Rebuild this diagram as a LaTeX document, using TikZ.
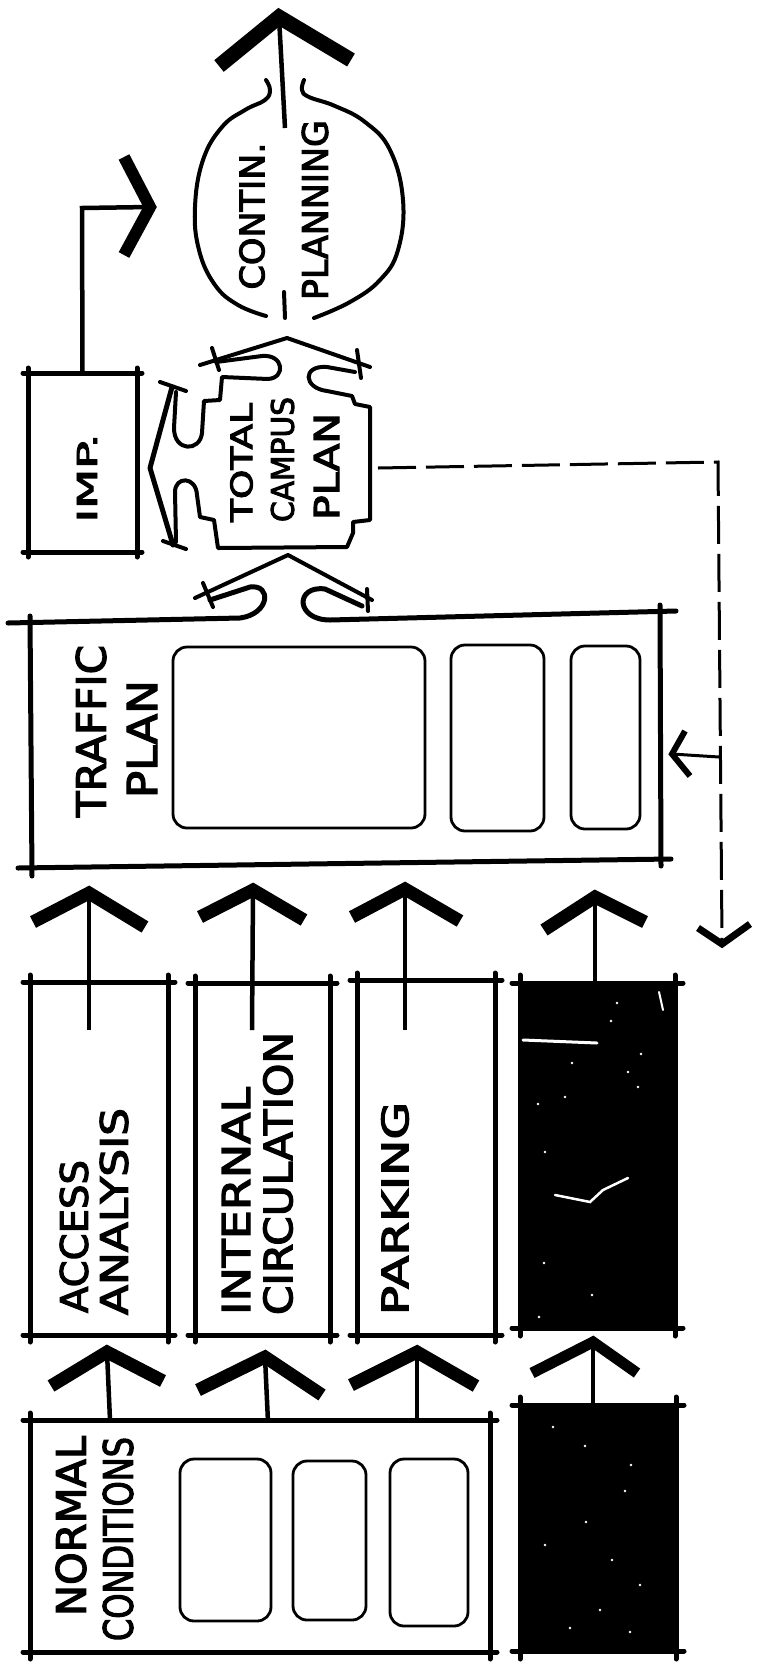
\documentclass[tikz,border=0pt]{standalone}
\usepackage{graphicx}
\usepackage{fontspec}
\newfontfamily\handfont[FakeBold=3]{DejaVu Sans}
\usetikzlibrary{calc}
\newcommand{\fittext}[3]{\resizebox{#1pt}{#2pt}{\handfont #3}}
\newcommand{\skbox}[5]{%
  \draw[edge] ({#1-#5},#2) -- ({#3+#5},#2);
  \draw[edge] ({#1-#5},#4) -- ({#3+#5},#4);
  \draw[edge] (#1,{#2-#5}) -- (#1,{#4+#5});
  \draw[edge] (#3,{#2-#5}) -- (#3,{#4+#5});
}
\tikzset{
  edge/.style={line width=5pt, line cap=round, line join=round},
  outline/.style={line width=4pt, line cap=round, line join=round},
  inner/.style={line width=2.8pt, rounded corners=14pt},
  stem/.style={line width=4.5pt, line join=miter},
  head/.style={line width=13pt, line cap=butt, line join=miter, miter limit=20},
  dash line/.style={line width=3pt, dash pattern=on 38pt off 10pt},
  lbl/.style={rotate=90, inner sep=0pt},
  boxn/.style={draw=none, inner sep=0pt, rectangle},
  speck/.style={fill=white, draw=none}
}
\begin{document}
\begin{tikzpicture}[x=1pt,y=-1pt]
\fill[white] (0,0) rectangle (767,1674);
\useasboundingbox (0,0) rectangle (767,1674);

% ---------- box nodes (anchors) ----------
\node[boxn, minimum width=109pt, minimum height=179pt] (imp) at (82.5,462.5) {};
\node[boxn, minimum width=630pt, minimum height=250pt] (traffic) at (345,742) {};
\node[boxn, minimum width=138pt, minimum height=353pt] (access) at (99,1158) {};
\node[boxn, minimum width=135pt, minimum height=352pt] (internal) at (262.5,1159) {};
\node[boxn, minimum width=138pt, minimum height=355pt] (parking) at (426,1157) {};
\node[boxn, minimum width=155pt, minimum height=345pt] (blackA) at (597.5,1155.5) {};
\node[boxn, minimum width=460pt, minimum height=232pt] (normal) at (260,1536) {};
\node[boxn, minimum width=156pt, minimum height=246pt] (blackB) at (598,1528) {};

% ---------- CONTIN. PLANNING ----------
\draw[outline] plot[smooth, tension=0.7] coordinates {(266,80) (270,90) (265,100) (245,110) (222,127) (203,160) (195,207) (199,250) (215,285) (238,305) (266,316)};
\draw[outline] plot[smooth, tension=0.7] coordinates {(304,80) (302,90) (309,97) (335,106) (365,122) (390,150) (403,200) (398,250) (380,280) (350,302) (314,318)};
\draw[outline] (284,292) -- (285,318);
\node[lbl] (contin) at (252,216) {\fittext{147}{25}{CONTIN.}};
\node[lbl] (planning) at (315,210) {\fittext{180}{26}{PLANNING}};
\coordinate (cpOut) at (285,128);
\coordinate (topTip) at (279,17);
\draw[stem] (cpOut) -- (topTip);
\draw[head, line width=15pt] (219,66) -- (topTip) -- (351,60);

% ---------- TOTAL CAMPUS PLAN ----------
\coordinate (tcpTip) at (287,338);
\draw[outline] (200,365) -- (tcpTip) -- (370,367);
\draw[outline] (212,348) -- (219,370);
\draw[outline] (357,350) -- (361,378);
\draw[outline] (216,362) -- (262,356) .. controls (284,354) and (286,378) .. (268,379) -- (222,377) -- (220,400) -- (204,401) -- (202,433) .. controls (200,452) and (174,452) .. (174,428) -- (176,392);
\draw[outline, line width=5pt] (172,387) -- (150,468) -- (173,545);
\draw[outline] (160,382) -- (186,391);
\draw[outline] (163,541) -- (186,549);
\draw[outline] (176,542) -- (175,492) .. controls (175,476) and (196,476) .. (197,495) -- (200,517) -- (214,520) -- (218,548) -- (347,547) -- (353,533) -- (353,522) -- (370,520) -- (370,407) -- (355,404) -- (352,396) -- (327,391) .. controls (303,388) and (302,365) .. (327,367) -- (355,372);
\node[lbl] (total) at (241.5,462.5) {\fittext{119}{22}{TOTAL}};
\node[lbl] (campus) at (282.5,459.5) {\fittext{125}{23}{CAMPUS}};
\node[lbl] (tcplan) at (326.5,466.5) {\fittext{107}{25}{PLAN}};
\coordinate (tcpRight) at (378,468);

% ---------- IMP. ----------
\skbox{28}{373}{137}{552}{5}
\node[lbl] (imptext) at (87,478) {\fittext{89}{20}{IMP.}};
\coordinate (impTip) at (150,207);
\draw[stem] (imp.north) -- (82,208) -- (impTip);
\draw[head, line width=12pt] (124,157) -- (impTip) -- (124,255);

% ---------- dashed feedback ----------
\coordinate (dashCorner) at (718,462);
\coordinate (dashEnd) at (722,940);
\draw[dash line] (tcpRight) -- (dashCorner) -- (dashEnd);
\draw[head, line width=7pt] (698,928) -- (722,944) -- (750,924);
\coordinate (branch) at (719,757);
\coordinate (branchTip) at (672,754);
\draw[line width=3pt] (branch) -- (branchTip);
\draw[head, line width=6pt] (685,731) -- (branchTip) -- (690,776);

% ---------- TRAFFIC PLAN ----------
\coordinate (tpTip) at (288,555);
\draw[outline] (195,598) -- (tpTip) -- (372,600);
\draw[outline] (203,583) -- (213,607);
\draw[outline] (367,589) -- (368,611);
\draw[edge] (8,623) -- (240,618) .. controls (270,614) and (272,584) .. (250,587) -- (210,600);
\draw[edge] (676,611) -- (330,620) .. controls (295,620) and (295,585) .. (325,589) -- (362,606);
\draw[edge] (30,616) -- (32,876);
\draw[edge] (660,605) -- (661,866);
\draw[edge] (18,868) -- (671,859);
\draw[inner] (173,647) rectangle (425,828);
\draw[inner] (451,645) rectangle (544,831);
\draw[inner] (571,646) rectangle (640,829);
\node[lbl] (traffictext) at (91,731) {\fittext{172}{30}{TRAFFIC}};
\node[lbl] (tplantext) at (142,739) {\fittext{118}{30}{PLAN}};

% ---------- arrows to TRAFFIC PLAN ----------
\coordinate (u1) at (89,893);  \coordinate (s1) at (89,1030);
\coordinate (u2) at (253,890); \coordinate (s2) at (252,1030);
\coordinate (u3) at (405,889); \coordinate (s3) at (405,1030);
\coordinate (u4) at (595,897); \coordinate (s4) at (595,983);
\draw[stem] (s1) -- (u1);
\draw[stem] (s2) -- (u2);
\draw[stem] (s3) -- (u3);
\draw[stem] (s4) -- (u4);
\draw[head] (33,922) -- (u1) -- (145,927);
\draw[head] (200,917) -- (u2) -- (304,920);
\draw[head] (352,917) -- (u3) -- (460,921);
\draw[head] (544,930) -- (u4) -- (645,922);

% ---------- column boxes ----------
\skbox{30}{982}{168}{1335}{7}
\skbox{195}{983}{330}{1335}{7}
\skbox{357}{980}{495}{1335}{7}
\fill (520,983) rectangle (675,1328);
\skbox{520}{983}{675}{1328}{8}
\node[lbl] (accesstext) at (74,1236.5) {\fittext{153}{28}{ACCESS}};
\node[lbl] (analysistext) at (114,1211.5) {\fittext{207}{28}{ANALYSIS}};
\node[lbl] (internaltext) at (236,1201) {\fittext{228}{28}{INTERNAL}};
\node[lbl] (circtext) at (278,1173.5) {\fittext{283}{29}{CIRCULATION}};
\node[lbl] (parkingtext) at (395,1208.5) {\fittext{213}{27}{PARKING}};
% white marks in black box
\draw[white, line width=3pt, line cap=round] (523,1040) -- (597,1043);
\draw[white, line width=2.5pt, line cap=round] (555,1195) -- (590,1202) -- (603,1190) -- (628,1178);
\draw[white, line width=2pt, line cap=round] (659,992) -- (663,1010);
\foreach \p in {(617,1003),(611,1021),(641,1054),(572,1063),(628,1072),(638,1087),(565,1097),(538,1104),(545,1152),(544,1263),(592,1295),(539,1317)}
  \fill[speck] \p circle (1.3pt);

% ---------- arrows to column boxes ----------
\coordinate (v1) at (107,1352); \coordinate (n1) at (110,1420);
\coordinate (v2) at (265,1357); \coordinate (n2) at (268,1422);
\coordinate (v3) at (417,1352); \coordinate (n3) at (417,1422);
\coordinate (v4) at (593,1342); \coordinate (n4) at (593,1405);
\draw[stem] (n1) -- (v1);
\draw[stem] (n2) -- (v2);
\draw[stem] (n3) -- (v3);
\draw[stem] (n4) -- (v4);
\draw[head] (51,1386) -- (v1) -- (163,1381);
\draw[head] (198,1390) -- (v2) -- (322,1395);
\draw[head] (351,1385) -- (v3) -- (476,1386);
\draw[head, line width=11pt] (532,1373) -- (v4) -- (637,1373);

% ---------- NORMAL CONDITIONS ----------
\skbox{30}{1420}{490}{1652}{7}
\draw[inner] (180,1459) rectangle (271,1621);
\draw[inner] (293,1461) rectangle (366,1620);
\draw[inner] (390,1459) rectangle (468,1626);
\node[lbl] (normaltext) at (71,1526) {\fittext{180}{30}{NORMAL}};
\node[lbl] (condtext) at (118,1539) {\fittext{204}{30}{CONDITIONS}};

% ---------- bottom black box ----------
\fill (520,1405) rectangle (676,1651);
\skbox{520}{1405}{676}{1651}{8}
\foreach \p in {(553,1427),(585,1446),(631,1465),(625,1491),(586,1522),(545,1545),(612,1560),(640,1585),(600,1610),(570,1628),(630,1632)}
  \fill[speck] \p circle (1.3pt);
\end{tikzpicture}
\end{document}
